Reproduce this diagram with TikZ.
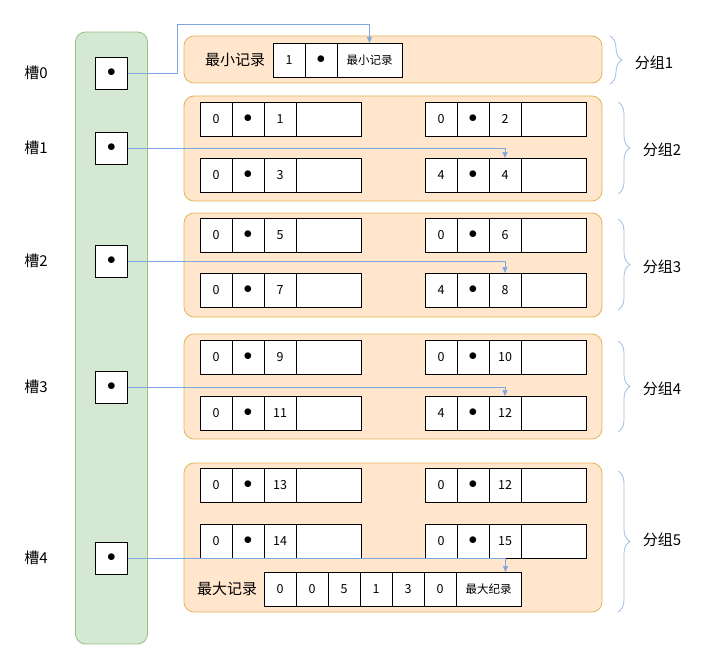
\documentclass[tikz,border=0pt]{standalone}
\usepackage{fontspec}
\setmainfont{Noto Sans CJK SC}
\usetikzlibrary{arrows.meta,positioning,calc,decorations.pathreplacing}
\definecolor{slotfill}{HTML}{D5E8D4}
\definecolor{slotline}{HTML}{97C087}
\definecolor{grpfill}{HTML}{FFE6CC}
\definecolor{grpline}{HTML}{E3B55A}
\definecolor{linkblue}{HTML}{7EA6E0}
\definecolor{bracecol}{HTML}{A0BDE8}
\newcommand\dotmark{{\fontsize{17}{17}\selectfont$\bullet$}}

\begin{document}
\begin{tikzpicture}[
  x=1pt, y=-1pt,
  cell/.style={draw, fill=white, minimum width=32pt, minimum height=34pt, inner sep=0pt, outer sep=0pt, line width=0.8pt, font=\fontsize{12.5}{14}\selectfont},
  wide/.style={cell, minimum width=65pt},
  slot/.style={draw, fill=white, minimum size=32pt, inner sep=0pt, line width=0.8pt},
  group/.style={draw=grpline, fill=grpfill, rounded corners=10pt, minimum width=418pt, inner sep=0pt, line width=0.8pt},
  tag/.style={font=\fontsize{15}{17}\selectfont},
  link/.style={draw=linkblue, -{Triangle[length=6pt,width=5pt]}, line width=0.7pt},
  brace/.style={draw=bracecol, decorate, decoration={brace, amplitude=12pt}, line width=0.8pt}
]
\useasboundingbox (0,0) rectangle (721,661);

\node[draw=slotline, fill=slotfill, rounded corners=10pt, minimum width=72pt, minimum height=612pt, line width=0.8pt] (col) at (111.5,338) {};

\node[group, minimum height=47pt] (g1) at (393,59.5) {};
\node[group, minimum height=105pt] (g2) at (393,148.5) {};
\node[group, minimum height=104pt] (g3) at (393,265) {};
\node[group, minimum height=105pt] (g4) at (393,386.5) {};
\node[group, minimum height=149pt] (g5) at (393,537.5) {};

\foreach \k/\y in {0/73,1/148,2/261,3/387,4/558} {
  \node[slot] (s\k) at (111.5,\y) {\dotmark};
  \node[tag] (t\k) at (36,\y) {槽\k};
}

\node[tag] (minlabel) at (235,60) {最小记录};
\node[cell, anchor=west] (min-1) at (273,60) {1};
\node[cell, right=0pt of min-1] (min-2) {\dotmark};
\node[wide, right=0pt of min-2, font=\fontsize{11.5}{13}\selectfont] (min-3) {最小记录};

\foreach \nm/\x/\y/\a/\c in {g2a/200/119/0/1, g2b/425/119/0/2, g2c/200/175/0/3, g2d/425/175/4/4,
  g3a/200/235/0/5, g3b/425/235/0/6, g3c/200/290/0/7, g3d/425/290/4/8,
  g4a/200/357/0/9, g4b/425/357/0/10, g4c/200/413/0/11, g4d/425/413/4/12,
  g5a/200/485/0/13, g5b/425/485/0/12, g5c/200/541/0/14, g5d/425/541/0/15} {
  \node[cell, anchor=west] (\nm-1) at (\x,\y) {\a};
  \node[cell, right=0pt of \nm-1] (\nm-2) {\dotmark};
  \node[cell, right=0pt of \nm-2] (\nm-3) {\c};
  \node[wide, right=0pt of \nm-3] (\nm-4) {};
}

\node[tag] (maxlabel) at (227,589) {最大记录};
\node[cell, anchor=west] (max-1) at (264,589) {0};
\foreach \v [count=\i from 2] in {0,5,1,3,0} {
  \pgfmathtruncatemacro\j{\i-1}
  \node[cell, right=0pt of max-\j] (max-\i) {\v};
}
\node[wide, right=0pt of max-6, font=\fontsize{11.5}{13}\selectfont] (max-7) {最大纪录};

\draw[brace] (610,36) -- (610,84);
\draw[brace] (618,102) -- (618,194);
\draw[brace] (618,219) -- (618,310);
\draw[brace] (618,341) -- (618,432);
\draw[brace] (618,471) -- (618,612);
\node[tag] (n1) at (654,63) {分组1};
\node[tag] (n2) at (662,150) {分组2};
\node[tag] (n3) at (662,267) {分组3};
\node[tag] (n4) at (662,389) {分组4};
\node[tag] (n5) at (662,540) {分组5};

\draw[link] (s0.east) -- ++(49,0) |- ($(min-3.north)+(0,-19)$) -- (min-3.north);
\draw[link] (s1.east) -| (g2d-3.north);
\draw[link] (s2.east) -| (g3d-3.north);
\draw[link] (s3.east) -| (g4d-3.north);
\draw[link] (s4.east) -| ($(max-7.north)+(17,0)$);

\end{tikzpicture}
\end{document}
